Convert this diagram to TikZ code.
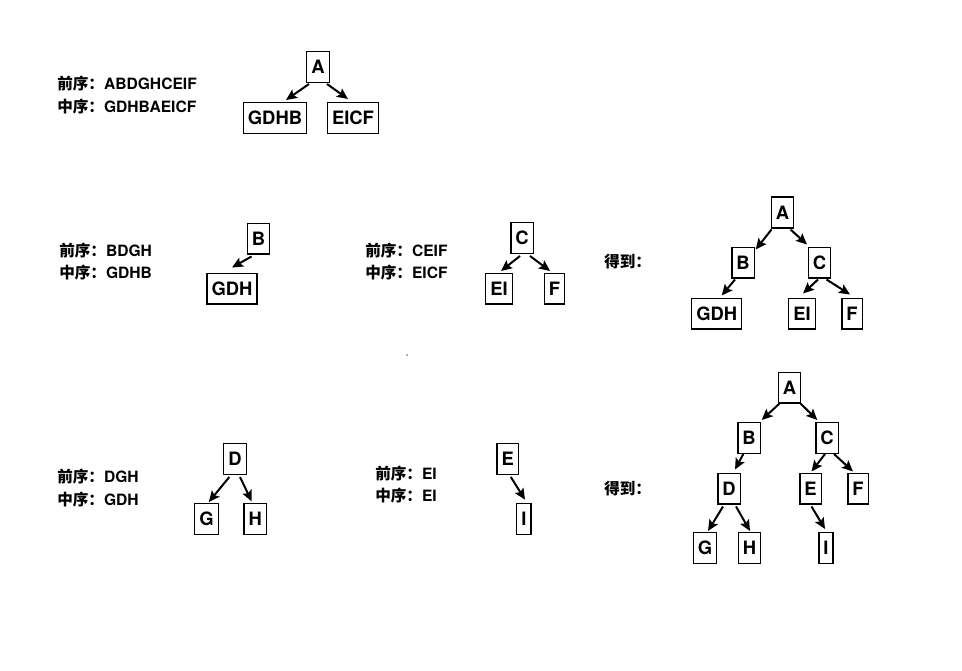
\documentclass[tikz,border=0pt]{standalone}
\usepackage{fontspec}
\setmainfont{TeX Gyre Heros}
\newfontfamily\cjk{Noto Sans CJK SC}
\usetikzlibrary{arrows.meta,calc}
\begin{document}
\begin{tikzpicture}[x=0.75pt,y=-0.75pt,
  box/.style={draw, line width=1pt, minimum height=23pt, inner xsep=3.4pt, inner ysep=0pt,
    font=\fontsize{13.8}{16}\selectfont\bfseries},
  lbl/.style={anchor=west, inner sep=0pt, font=\fontsize{11.7}{14}\selectfont\bfseries},
  arr/.style={line width=1.5pt, -{Stealth[length=8.2pt,width=7.4pt,inset=1.6pt]}}]
\useasboundingbox (0,0) rectangle (962,670);

% ---------- top tree ----------
\node[lbl] (t1a) at (57,84) {{\cjk 前序：}ABDGHCEIF};
\node[lbl] (t1b) at (57,107) {{\cjk 中序：}GDHBAEICF};
\node[box] (A1) at (318,67) {A};
\node[box] (GDHB1) at (275,118) {GDHB};
\node[box] (EICF1) at (353,118) {EICF};
\draw[arr] ($(A1.south)+(-9,1)$) -- ($(GDHB1.north)+(11,-2)$);
\draw[arr] ($(A1.south)+(9,1)$) -- ($(EICF1.north)+(-5,-3)$);

% ---------- row 2 ----------
\node[lbl] (t2a) at (59,251) {{\cjk 前序：}BDGH};
\node[lbl] (t2b) at (59,273) {{\cjk 中序：}GDHB};
\node[box] (B2) at (258.5,238.5) {B};
\node[box] (GDH2) at (232,288.5) {GDH};
\draw[arr] ($(B2.south)+(-7,2)$) -- ($(GDH2.north)+(0,-5)$);

\node[lbl] (t3a) at (365,251) {{\cjk 前序：}CEIF};
\node[lbl] (t3b) at (365,273) {{\cjk 中序：}EICF};
\node[box] (C2) at (522,238) {C};
\node[box] (EI2) at (499,288.5) {EI};
\node[box] (F2) at (554.5,288.5) {F};
\draw[arr] ($(C2.south)+(-2,2)$) -- ($(EI2.north)+(2,-1.5)$);
\draw[arr] ($(C2.south)+(8,2)$) -- ($(F2.north)+(-4.5,-1.5)$);

\node[lbl] (t4) at (604,262) {{\cjk 得到：}};
\node[box] (A3) at (782.5,212.5) {A};
\node[box] (B3) at (743,262.5) {B};
\node[box] (C3) at (819.5,262.5) {C};
\node[box] (GDH3) at (716.7,313.5) {GDH};
\node[box] (EI3) at (802,313.5) {EI};
\node[box] (F3) at (852,313.5) {F};
\draw[arr] ($(A3.south)+(-11,1)$) -- ($(B3.north)+(12.7,3)$);
\draw[arr] ($(A3.south)+(8,1)$) -- ($(C3.north)+(-12.5,-2)$);
\draw[arr] ($(B3.south)+(-8,1)$) -- ($(GDH3.north)+(5,-2)$);
\draw[arr] ($(C3.south)+(-1.5,1)$) -- ($(EI3.north)+(1,-4)$);
\draw[arr] ($(C3.south)+(7,1)$) -- ($(F3.north)+(-2,-3)$);

\fill[gray] (407,355) circle (1);

% ---------- row 3 ----------
\node[lbl] (t5a) at (57,477) {{\cjk 前序：}DGH};
\node[lbl] (t5b) at (57,500) {{\cjk 中序：}GDH};
\node[box] (D4) at (235,459) {D};
\node[box] (G4) at (206.5,519) {G};
\node[box] (H4) at (255.3,519) {H};
\draw[arr] ($(D4.south)+(-5.7,2)$) -- ($(G4.north)+(2.3,-1)$);
\draw[arr] ($(D4.south)+(5,2)$) -- ($(H4.north)+(-3.6,-1.6)$);

\node[lbl] (t6a) at (375,474) {{\cjk 前序：}EI};
\node[lbl] (t6b) at (375,496) {{\cjk 中序：}EI};
\node[box] (E4) at (507.8,459) {E};
\node[box] (I4) at (523.8,519) {I};
\draw[arr] ($(E4.south)+(3,2)$) -- ($(I4.north)+(1.2,-3.3)$);

\node[lbl] (t7) at (604,489) {{\cjk 得到：}};
\node[box] (A5) at (789.5,387.5) {A};
\node[box] (B5) at (749,438) {B};
\node[box] (C5) at (827,438) {C};
\node[box] (D5) at (729,488.5) {D};
\node[box] (E5) at (810.5,488.5) {E};
\node[box] (F5) at (858,488.5) {F};
\node[box] (G5) at (705,548) {G};
\node[box] (H5) at (749.5,548) {H};
\node[box] (I5) at (826,548) {I};
\draw[arr] ($(A5.south)+(-10,0)$) -- ($(B5.north)+(12.7,-2)$);
\draw[arr] ($(A5.south)+(11,0)$) -- ($(C5.north)+(-9.7,-2)$);
\draw[arr] ($(B5.south)+(-5.7,0)$) -- ($(D5.north)+(6,-3)$);
\draw[arr] ($(C5.south)+(-2,0)$) -- ($(E5.north)+(1,-1)$);
\draw[arr] ($(C5.south)+(7,0)$) -- ($(F5.north)+(-5,-1)$);
\draw[arr] ($(D5.south)+(-6,2)$) -- ($(G5.north)+(3,-1)$);
\draw[arr] ($(D5.south)+(7,2)$) -- ($(H5.north)+(0.5,-1)$);
\draw[arr] ($(E5.south)+(1,2)$) -- ($(I5.north)+(-1,-3)$);
\end{tikzpicture}
\end{document}
